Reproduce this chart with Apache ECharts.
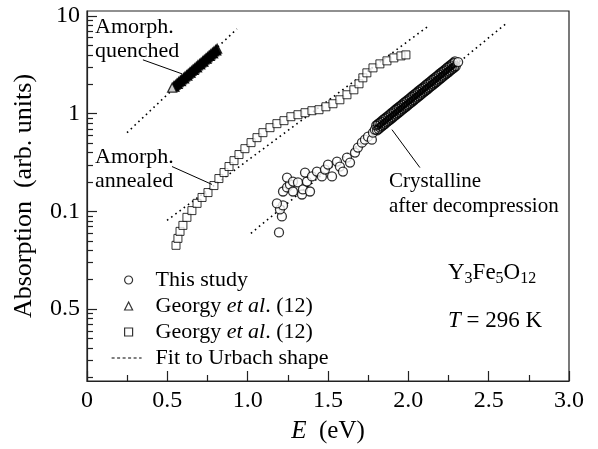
<!DOCTYPE html>
<html>
<head>
<meta charset="utf-8">
<script src="https://cdn.jsdelivr.net/npm/echarts@6/dist/echarts.min.js"></script>
<style>
html,body{margin:0;padding:0;background:#fff;}
#chart{width:598px;height:449px;}
</style>
</head>
<body>
<div id="chart"></div>
<script>
// ---------- data ----------
var xTicks = [0, 0.5, 1.0, 1.5, 2.0, 2.5, 3.0];
var yMajor = [0.01, 0.1, 1, 10];
var yMajorLabels = ['0.5', '0.1', '1', '10'];
var yMinor = [0.002,0.003,0.004,0.005,0.006,0.007,0.008,0.009,
              0.02,0.03,0.04,0.05,0.06,0.07,0.08,0.09,
              0.2,0.3,0.4,0.5,0.6,0.7,0.8,0.9,
              2,3,4,5,6,7,8,9];

// Crystalline after decompression (This study): scattered low-energy part
var studyScatterE = [1.195,1.213,1.201,1.220,1.182,1.220,1.245,1.263,1.282,1.245,1.282,1.313,1.338,1.344,1.369,1.357,1.388,1.400,1.431,1.462,1.481,1.500,1.525,1.556,1.574,1.593,1.618,1.637,1.668,1.686,1.711,1.730,1.749,1.773,1.780,1.792];
var studyScatterAbs = [0.0610,0.0889,0.1048,0.1151,0.1207,0.160,0.176,0.189,0.160,0.222,0.202,0.198,0.149,0.168,0.202,0.250,0.160,0.228,0.256,0.228,0.268,0.302,0.228,0.324,0.288,0.256,0.356,0.316,0.400,0.450,0.506,0.543,0.582,0.543,0.640,0.687];
// dense high-energy band
var studyBandE = [1.80,1.81,1.82,1.83,1.84,1.85,1.86,1.87,1.88,1.89,1.90,1.91,1.92,1.93,1.94,1.95,1.96,1.97,1.98,1.99,2.00,2.01,2.02,2.03,2.04,2.05,2.06,2.07,2.08,2.09,2.10,2.11,2.12,2.13,2.14,2.15,2.16,2.17,2.18,2.19,2.20,2.21,2.22,2.23,2.24,2.25,2.26,2.27,2.28,2.29,
  1.805,1.815,1.825,1.835,1.845,1.855,1.865,1.875,1.885,1.895,1.905,1.915,1.925,1.935,1.945,1.955,1.965,1.975,1.985,1.995,2.005,2.015,2.025,2.035,2.045,2.055,2.065,2.075,2.085,2.095,2.105,2.115,2.125,2.135,2.145,2.155,2.165,2.175,2.185,2.195,2.205,2.215,2.225,2.235,2.245,2.255,2.265,2.275,2.285,2.295,
  2.31];
var studyBandAbs = [0.758,0.782,0.806,0.830,0.858,0.884,0.913,0.941,0.969,1.000,1.031,1.063,1.098,1.131,1.165,1.204,1.240,1.281,1.319,1.360,1.404,1.447,1.491,1.540,1.587,1.638,1.688,1.740,1.797,1.851,1.907,1.970,2.030,2.096,2.159,2.226,2.298,2.368,2.440,2.520,2.597,2.681,2.763,2.847,2.940,3.029,3.129,3.224,3.322,3.430,
  0.676,0.697,0.719,0.742,0.765,0.789,0.814,0.839,0.865,0.893,0.920,0.949,0.979,1.009,1.041,1.073,1.107,1.142,1.177,1.214,1.252,1.290,1.331,1.373,1.417,1.461,1.506,1.553,1.602,1.651,1.703,1.757,1.812,1.869,1.926,1.987,2.050,2.112,2.178,2.248,2.319,2.391,2.464,2.542,2.622,2.705,2.790,2.875,2.966,3.060,
  3.38];

// Amorphous quenched (Georgy et al., triangles), high to low energy
var quenchedE = [0.81,0.805,0.80,0.79,0.785,0.78,0.77,0.765,0.76,0.75,0.745,0.74,0.73,0.725,0.72,0.71,0.705,0.70,0.69,0.685,0.68,0.67,0.665,0.66,0.65,0.645,0.64,0.63,0.625,0.62,0.61,0.605,0.60,0.59,0.585,0.58,0.57,0.565,0.56,0.55,0.545,0.54,0.53];
var quenchedAbs = [4.63,4.45,4.49,4.34,4.15,4.20,4.06,3.90,3.94,3.80,3.66,3.68,3.57,3.42,3.44,3.33,3.20,3.23,3.13,2.99,3.02,2.92,2.81,2.83,2.74,2.63,2.65,2.56,2.46,2.48,2.40,2.30,2.32,2.25,2.16,2.18,2.11,2.02,2.04,1.97,1.89,1.91,1.85];

// Amorphous annealed (Georgy et al., squares)
var annealedE = [0.554,0.566,0.579,0.597,0.622,0.653,0.685,0.716,0.753,0.790,0.821,0.853,0.884,0.915,0.946,0.983,1.021,1.058,1.095,1.139,1.182,1.226,1.269,1.313,1.357,1.400,1.444,1.487,1.531,1.574,1.618,1.661,1.693,1.717,1.742,1.780,1.823,1.867,1.910,1.954,1.985];
var annealedAbs = [0.045,0.053,0.0625,0.072,0.087,0.102,0.121,0.139,0.156,0.184,0.217,0.250,0.288,0.331,0.382,0.439,0.506,0.569,0.640,0.720,0.791,0.849,0.932,0.977,1.024,1.073,1.099,1.178,1.265,1.389,1.563,1.757,2.024,2.330,2.620,2.946,3.237,3.475,3.727,3.906,4.000];

// Urbach fits (end points)
var fitQuenchedE = [0.249, 0.933];
var fitQuenchedAbs = [0.64, 7.37];
var fitAnnealedE = [0.498, 2.134];
var fitAnnealedAbs = [0.081, 8.1];
var fitCrystE = [1.02, 2.613];
var fitCrystAbs = [0.0597, 8.5];

// annotation arrows (data coordinates: from, to)
var arrowQuenched = [[0.348, 3.56], [0.591, 2.56]];
var arrowAnnealed = [[0.529, 0.288], [0.778, 0.189]];
var arrowCryst = [[2.072, 0.281], [1.898, 0.687]];

function zip(a, b) { return a.map(function (v, i) { return [v, b[i]]; }); }

var FONT = 'Liberation Serif';
var chart = echarts.init(document.getElementById('chart'), null, {renderer: 'canvas'});

var legendNames = {
  'study': '{n|This study}',
  'tri': '{n|Georgy }{i|et al}{n|. (12)}',
  'sq': '{n|Georgy }{i|et al}{n|. (12)}',
  'fit': '{n|Fit to Urbach shape}'
};
var legendRich = {
  n: {fontFamily: FONT, fontSize: 22, color: '#000'},
  i: {fontFamily: FONT, fontSize: 22, fontStyle: 'italic', color: '#000'}
};

var fitLine = {type: [1.6, 3.6], width: 1.6, color: '#000'};
var arrowLine = {type: 'solid', width: 1, color: '#000'};
var CLEAR = 'rgba(255,255,255,0)';
var openIcon = {color: '#fff', borderColor: '#000', borderWidth: 1.2};

var option = {
  animation: false,
  backgroundColor: '#fff',
  grid: {left: 87, right: 29, top: 11, bottom: 67, show: true, borderColor: '#222', borderWidth: 1.2, backgroundColor: 'transparent'},
  xAxis: {
    type: 'value', min: 0, max: 3, interval: 0.5,
    name: '{i|E}{n|  (eV)}', nameLocation: 'middle', nameGap: 38,
    nameTextStyle: {rich: {i: {fontFamily: FONT, fontSize: 25, fontStyle: 'italic', color: '#000'}, n: {fontFamily: FONT, fontSize: 25, color: '#000'}}},
    axisLine: {lineStyle: {color: '#222', width: 1.2}},
    axisTick: {inside: true, length: 10, lineStyle: {color: '#222', width: 1.2}},
    minorTick: {show: true, splitNumber: 2, length: 6, lineStyle: {color: '#222', width: 1.2}},
    splitLine: {show: false},
    axisLabel: {
      fontFamily: FONT, fontSize: 24, color: '#000', margin: 8,
      formatter: function (v) { return v === 0 ? '0' : v.toFixed(1); }
    }
  },
  yAxis: [{
    type: 'log', logBase: 10, min: 0.00184, max: 11.25, position: 'left',
    name: 'Absorption  (arb. units)', nameLocation: 'middle', nameGap: 50,
    nameTextStyle: {fontFamily: FONT, fontSize: 26, color: '#000'},
    axisLine: {show: true, lineStyle: {color: '#222', width: 1.2}},
    axisTick: {inside: true, length: 10, customValues: yMajor, lineStyle: {color: '#222', width: 1.2}},
    splitLine: {show: false},
    axisLabel: {
      fontFamily: FONT, fontSize: 24, color: '#000', margin: 7, customValues: yMajor,
      formatter: function (v) {
        for (var i = 0; i < yMajor.length; i++) { if (Math.abs(v - yMajor[i]) / yMajor[i] < 1e-6) return yMajorLabels[i]; }
        return '';
      }
    }
  }, {
    type: 'log', logBase: 10, min: 0.00184, max: 11.25, position: 'left', offset: 0,
    axisLine: {show: false},
    axisTick: {show: true, inside: true, length: 6, customValues: yMinor, lineStyle: {color: '#222', width: 1.2}},
    axisLabel: {show: false},
    splitLine: {show: false}
  }],
  legend: [{
    orient: 'vertical', left: 124, top: 269, padding: 0, itemGap: 4,
    itemWidth: 8, itemHeight: 8,
    formatter: function (name) { return legendNames[name]; },
    textStyle: {padding: [0, 0, 0, 18], rich: legendRich},
    data: [
      {name: 'study', icon: 'circle', itemStyle: openIcon},
      {name: 'tri', icon: 'triangle', itemStyle: openIcon},
      {name: 'sq', icon: 'rect', itemStyle: openIcon}
    ]
  }, {
    orient: 'vertical', left: 111, top: 347, padding: 0,
    itemWidth: 30, itemHeight: 8,
    formatter: function (name) { return legendNames[name]; },
    textStyle: {padding: [0, 0, 0, 9], rich: legendRich},
    data: [
      {name: 'fit', itemStyle: {color: CLEAR, borderColor: CLEAR, borderWidth: 0, opacity: 0}, lineStyle: {type: [3, 2.5], width: 1.2, color: '#000', opacity: 1}}
    ]
  }],
  graphic: [
    {type: 'text', x: 95, y: 27, style: {text: 'Amorph.', font: '22px "Liberation Serif"', fill: '#000', verticalAlign: 'middle'}},
    {type: 'text', x: 95, y: 51, style: {text: 'quenched', font: '22px "Liberation Serif"', fill: '#000', verticalAlign: 'middle'}},
    {type: 'text', x: 95, y: 157, style: {text: 'Amorph.', font: '22px "Liberation Serif"', fill: '#000', verticalAlign: 'middle'}},
    {type: 'text', x: 95, y: 181, style: {text: 'annealed', font: '22px "Liberation Serif"', fill: '#000', verticalAlign: 'middle'}},
    {type: 'text', x: 389, y: 181, style: {text: 'Crystalline', font: '21px "Liberation Serif"', fill: '#000', verticalAlign: 'middle'}},
    {type: 'text', x: 389, y: 206, style: {text: 'after decompression', font: '21px "Liberation Serif"', fill: '#000', verticalAlign: 'middle'}},
    {type: 'text', x: 448, y: 273, style: {
      text: '{m|Y}{s|3}{m|Fe}{s|5}{m|O}{s|12}', verticalAlign: 'middle',
      rich: {
        m: {fontFamily: FONT, fontSize: 23, lineHeight: 28, color: '#000'},
        s: {fontFamily: FONT, fontSize: 16, lineHeight: 14, verticalAlign: 'bottom', color: '#000'}
      }}},
    {type: 'text', x: 448, y: 321, style: {
      text: '{i|T}{m| = 296 K}', verticalAlign: 'middle',
      rich: {
        i: {fontFamily: FONT, fontSize: 23, fontStyle: 'italic', color: '#000'},
        m: {fontFamily: FONT, fontSize: 23, color: '#000'}
      }}}
  ],
  series: [
    {name: 'fit', type: 'line', symbol: 'none', data: zip(fitQuenchedE, fitQuenchedAbs), lineStyle: fitLine, itemStyle: {color: '#000'}, z: 1},
    {name: 'fit', type: 'line', symbol: 'none', data: zip(fitAnnealedE, fitAnnealedAbs), lineStyle: fitLine, itemStyle: {color: '#000'}, z: 1},
    {name: 'fit', type: 'line', symbol: 'none', data: zip(fitCrystE, fitCrystAbs), lineStyle: fitLine, itemStyle: {color: '#000'}, z: 1,
      markLine: {
        silent: true, symbol: ['none', 'arrow'], symbolSize: [0, 9], precision: 6,
        lineStyle: arrowLine, label: {show: false}, emphasis: {disabled: true},
        data: [
          [{coord: arrowQuenched[0]}, {coord: arrowQuenched[1]}],
          [{coord: arrowAnnealed[0]}, {coord: arrowAnnealed[1]}],
          [{coord: arrowCryst[0]}, {coord: arrowCryst[1]}]
        ]
      }},
    {name: 'sq', type: 'scatter', symbol: 'rect', symbolSize: 8, data: zip(annealedE, annealedAbs),
      itemStyle: {color: '#fff', borderColor: '#000', borderWidth: 1}, z: 3},
    {name: 'tri', type: 'scatter', symbol: 'triangle', symbolSize: 9, data: zip(quenchedE, quenchedAbs),
      itemStyle: {
        color: function (p) { return p.dataIndex === quenchedE.length - 1 ? '#fff' : '#000'; },
        borderColor: '#000', borderWidth: 1.3}, z: 3},
    {name: 'study', type: 'scatter', symbol: 'circle', symbolSize: 9, data: zip(studyScatterE, studyScatterAbs),
      itemStyle: {color: '#fff', borderColor: '#000', borderWidth: 1.3}, z: 3},
    {name: 'study', type: 'scatter', symbol: 'circle', symbolSize: 9, data: zip(studyBandE, studyBandAbs),
      itemStyle: {
        color: function (p) { return p.dataIndex === studyBandE.length - 1 ? '#fff' : CLEAR; },
        borderColor: '#000', borderWidth: 1.3}, z: 3}
  ]
};
chart.setOption(option);
</script>
</body>
</html>
